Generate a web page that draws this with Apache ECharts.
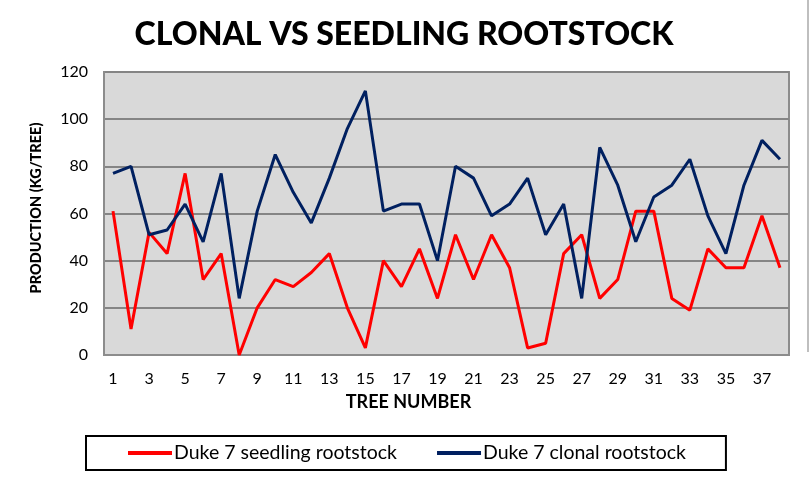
<!DOCTYPE html>
<html>
<head>
<meta charset="utf-8">
<script src="https://cdn.jsdelivr.net/npm/echarts@6/dist/echarts.min.js"></script>
<style>
html,body{margin:0;padding:0;background:#fff;}
#chart{width:812px;height:479px;}
</style>
</head>
<body>
<div id="chart"></div>
<script>
// tree numbers 1..38
var trees = [];
for (var i = 1; i <= 38; i++) { trees.push(String(i)); }

// Duke 7 seedling rootstock (kg/tree)
var seedling = [61, 11, 52, 43, 77, 32, 43, 0, 20, 32, 29, 35, 43, 20, 3, 40, 29, 45, 24, 51,
	32, 51, 37, 3, 5, 43, 51, 24, 32, 61, 61, 24, 19, 45, 37, 37, 59, 37];
// Duke 7 clonal rootstock (kg/tree)
var clonal = [77, 80, 51, 53, 64, 48, 77, 24, 61, 85, 69, 56, 75, 96, 112, 61, 64, 64, 40, 80,
	75, 59, 64, 75, 51, 64, 24, 88, 72, 48, 67, 72, 83, 59, 43, 72, 91, 83];

var fnt = 'Lato';
var chart = echarts.init(document.getElementById('chart'));
chart.setOption({
	animation: false,
	backgroundColor: '#fff',
	title: {
		text: 'CLONAL VS SEEDLING ROOTSTOCK',
		left: 399,
		textAlign: 'center',
		top: 14,
		textStyle: { fontFamily: fnt, fontWeight: 900, fontSize: 32, color: '#000' }
	},
	grid: {
		left: 104,
		right: 23,
		top: 72,
		bottom: 124,
		show: true,
		backgroundColor: '#d9d9d9',
		borderColor: '#8c8c8c',
		borderWidth: 2
	},
	legend: {
		left: 86,
		top: 436,
		padding: [7, 40, 7, 42],
		borderColor: '#000',
		borderWidth: 2,
		itemGap: 40,
		itemWidth: 44,
		itemHeight: 4,
		icon: 'rect',
		textStyle: { fontFamily: fnt, fontSize: 19.5, color: '#000', padding: [0, 0, 0, -3] },
		data: ['Duke 7 seedling rootstock', 'Duke 7 clonal rootstock']
	},
	xAxis: {
		type: 'category',
		data: trees,
		boundaryGap: true,
		name: 'TREE NUMBER',
		nameLocation: 'middle',
		nameGap: 38,
		nameTextStyle: { fontFamily: fnt, fontWeight: 'bold', fontSize: 18, color: '#000', padding: [0, 76, 0, 0] },
		axisLine: { lineStyle: { color: '#8c8c8c', width: 2 } },
		axisTick: { show: false },
		axisLabel: { interval: 1, margin: 16, fontFamily: fnt, fontSize: 16, color: '#000' }
	},
	yAxis: {
		type: 'value',
		min: 0,
		max: 120,
		interval: 20,
		name: 'PRODUCTION (KG/TREE)',
		nameLocation: 'middle',
		nameGap: 60,
		nameTextStyle: { fontFamily: fnt, fontWeight: 900, fontSize: 14.5, color: '#000', padding: [0, 0, 0, 11] },
		axisLine: { show: true, lineStyle: { color: '#8c8c8c', width: 2 } },
		axisTick: { show: false },
		axisLabel: { margin: 16, fontFamily: fnt, fontSize: 16, color: '#000' },
		splitLine: { lineStyle: { color: '#858585', width: 2 } }
	},
	graphic: [{
		type: 'line',
		shape: { x1: 808, y1: 0, x2: 808, y2: 352 },
		style: { stroke: '#bfbfbf', lineWidth: 2 }
	}],
	series: [{
		name: 'Duke 7 seedling rootstock',
		type: 'line',
		data: seedling,
		showSymbol: false,
		color: '#ff0000',
		lineStyle: { width: 3, color: '#ff0000' }
	}, {
		name: 'Duke 7 clonal rootstock',
		type: 'line',
		data: clonal,
		showSymbol: false,
		color: '#002060',
		lineStyle: { width: 3, color: '#002060' }
	}]
});
</script>
</body>
</html>
